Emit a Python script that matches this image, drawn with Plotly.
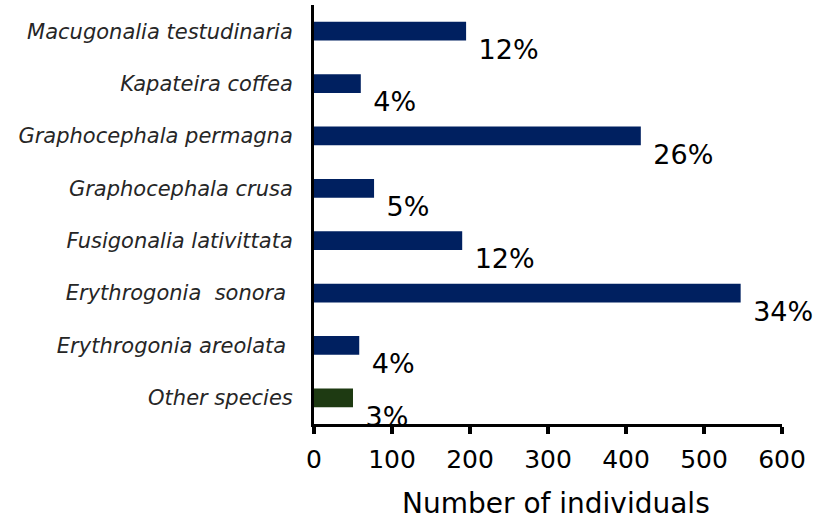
import plotly.graph_objects as go

species = [
    "Macugonalia testudinaria",
    "Kapateira coffea",
    "Graphocephala permagna",
    "Graphocephala crusa",
    "Fusigonalia lativittata",
    "Erythrogonia  sonora\u00a0",
    "Erythrogonia areolata\u00a0",
    "Other species",
]
individuals = [195, 60, 419, 77, 190, 547, 58, 50]
percent_labels = ["12%", "4%", "26%", "5%", "12%", "34%", "4%", "3%"]
bar_colors = ["#002060", "#002060", "#002060", "#002060", "#002060", "#002060", "#002060", "#1e3a12"]
x_ticks = [0, 100, 200, 300, 400, 500, 600]
x_title = "Number of individuals"

FONT = "DejaVu Sans"
n = len(species)
W, H = 829, 523
ML, MR, MT, MB = 314, 0, 5, 99
x_max = 600
main_px = 468  # width of the visible value axis in pixels
label_area_px = W - ML - MR
main_frac = main_px / label_area_px
# label offsets (axis units) to mimic the offset labels of the original
dx_units = 16.0
dy_units = 0.4

fig = go.Figure()
fig.add_trace(go.Bar(
    x=individuals, y=species, orientation="h",
    marker=dict(color=bar_colors, line=dict(width=0)),
    width=0.36, hoverinfo="x+y",
))
fig.add_trace(go.Scatter(
    x=individuals, y=species, mode="text", text=percent_labels,
    textposition="middle right",
    textfont=dict(family=FONT, size=27, color="#000000"),
    xaxis="x2", yaxis="y2", cliponaxis=True, hoverinfo="skip",
))

fig.update_layout(
    width=W, height=H,
    margin=dict(l=ML, r=MR, t=MT, b=MB, autoexpand=False),
    paper_bgcolor="white", plot_bgcolor="rgba(0,0,0,0)",
    showlegend=False,
    font=dict(family=FONT, color="#000000"),
    xaxis=dict(
        domain=[0, main_frac], anchor="y",
        range=[0, x_max], tickvals=x_ticks, ticks="outside", ticklen=7, tickwidth=4,
        tickcolor="black", showline=True, linecolor="black", linewidth=3,
        showgrid=False, zeroline=False,
        tickfont=dict(family=FONT, size=25, color="#000000"),
        ticklabelstandoff=4,
    ),
    yaxis=dict(
        domain=[0, 1], anchor="x",
        type="category", categoryarray=species, categoryorder="array",
        range=[n - 0.5, -0.5], showline=True, linecolor="black", linewidth=3,
        ticks="", showgrid=False, zeroline=False,
        tickfont=dict(family=FONT, size=21, color="#262626", style="italic"),
        ticklabelstandoff=14,
    ),
    xaxis2=dict(domain=[0, 1], anchor="y2",
                range=[-dx_units, -dx_units + x_max / main_frac], visible=False),
    yaxis2=dict(domain=[0, 1], anchor="x2", type="category", categoryarray=species,
                categoryorder="array",
                range=[n - 0.5 - dy_units, -0.5 - dy_units], visible=False),
    annotations=[dict(
        text=x_title, xref="paper", yref="paper", x=0.47, y=-0.234,
        xanchor="center", yanchor="bottom", showarrow=False,
        font=dict(family=FONT, size=28, color="#000000"),
    )],
)

fig.write_html("out.html", post_script="document.body.style.margin='0';",
               config={"displayModeBar": False})
